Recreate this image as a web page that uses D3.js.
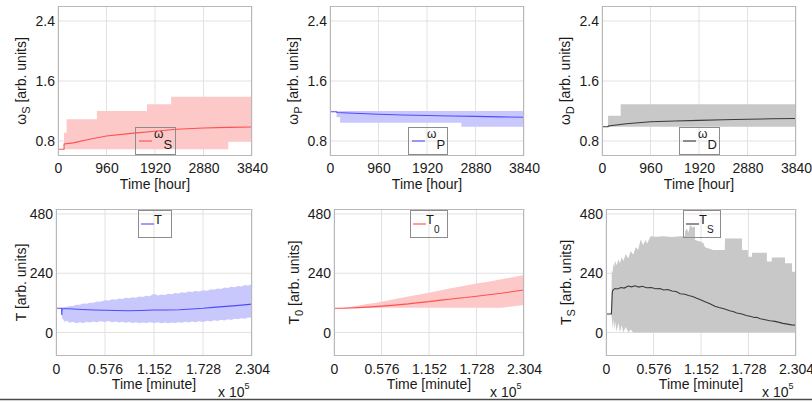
<!DOCTYPE html>
<html>
<head>
<meta charset="utf-8">
<script src="https://cdn.jsdelivr.net/npm/d3@7"></script>
<style>
  body { margin: 0; background: #fff; }
  text { font-family: "Liberation Sans", Arial, sans-serif; fill: #1a1a1a; }
</style>
</head>
<body>
<svg id="chart" width="812" height="402"></svg>
<script>
// ---- ticks ----
const hourTicks = [0, 960, 1920, 2880, 3840];
const omegaTicks = [0.8, 1.6, 2.4];
const minuteTicks = [0, 0.576, 1.152, 1.728, 2.304]; // x 10^5
const valueTicks = [0, 240, 480];

// ---- omega_S (hours) ----
const wsTime = [0, 119, 120, 300, 600, 960, 1500, 1920, 2340, 2880, 3360, 3840];
const wsMean = [0.69, 0.69, 0.76, 0.775, 0.82, 0.867, 0.905, 0.93, 0.956, 0.973, 0.982, 0.987];
const wsBandTime = [0, 119, 170, 770, 1760, 2240, 3370, 3840];
const wsLow  = [0.69, 0.69, 0.69, 0.69, 0.69, 0.69, 0.79, 0.79];
const wsHigh = [0.69, 0.91, 1.09, 1.20, 1.29, 1.39, 1.39, 1.39];

// ---- omega_P ----
const wpTime = [0, 130, 135, 480, 960, 1440, 1920, 2400, 2880, 3360, 3840];
const wpMean = [1.19, 1.19, 1.18, 1.17, 1.156, 1.147, 1.14, 1.134, 1.128, 1.122, 1.116];
const wpBandTime = [0, 130, 200, 2600, 3840];
const wpLow  = [1.19, 1.116, 1.044, 0.99, 0.99];
const wpHigh = [1.19, 1.20, 1.20, 1.20, 1.20];

// ---- omega_D ----
const wdTime = [0, 120, 125, 480, 960, 1440, 1920, 2400, 2880, 3360, 3840];
const wdMean = [0.99, 0.99, 1.0, 1.03, 1.057, 1.067, 1.075, 1.083, 1.09, 1.096, 1.10];
const wdBandTime = [0, 120, 370, 3840];
const wdLow  = [0.99, 0.99, 0.99, 0.99];
const wdHigh = [0.99, 1.137, 1.29, 1.29];

// ---- T (x 10^5 minutes) ----
const tTime = [0, 0.066, 0.068, 0.072, 0.15, 0.3, 0.45, 0.576, 0.7, 0.85, 1.0, 1.152, 1.3, 1.45, 1.6, 1.728, 1.85, 2.0, 2.15, 2.304];
const tMean = [98, 98, 71, 97, 96, 93, 91, 90, 89, 88, 89, 91, 91, 92, 95, 98, 102, 106, 110, 115];
const tBandTime = [0, 0.065, 0.07, 0.1, 0.13, 0.16, 0.2, 0.24, 0.28, 0.32, 0.36, 0.4, 0.44, 0.48, 0.52, 0.576,
  0.62, 0.66, 0.7, 0.74, 0.78, 0.82, 0.86, 0.9, 0.94, 0.98, 1.02, 1.06, 1.1, 1.152, 1.2, 1.24, 1.28, 1.32,
  1.36, 1.4, 1.44, 1.48, 1.52, 1.56, 1.6, 1.64, 1.68, 1.728, 1.78, 1.82, 1.86, 1.9, 1.94, 1.98, 2.02, 2.06,
  2.1, 2.14, 2.18, 2.22, 2.26, 2.304];
const tHigh = [98, 98, 100, 103, 104, 107, 107, 112, 112, 117, 116, 121, 121, 126, 125, 131,
  130, 135, 133, 138, 136, 141, 139, 143, 141, 146, 144, 149, 147, 157, 150, 154, 152, 157,
  155, 160, 158, 163, 161, 166, 164, 168, 166, 171, 169, 175, 173, 178, 176, 182, 180, 185,
  183, 188, 186, 192, 190, 196];
const tLow = [98, 98, 60, 44, 48, 40, 43, 38, 42, 39, 44, 41, 45, 42, 46, 43,
  47, 42, 45, 41, 44, 40, 43, 39, 42, 38, 41, 39, 42, 39, 42, 38, 41, 38,
  41, 39, 42, 40, 44, 41, 45, 42, 46, 43, 48, 45, 50, 47, 52, 49, 54, 51,
  56, 54, 58, 56, 61, 60];

// ---- T_0 ----
const t0Time = [0, 0.1, 0.2, 0.3, 0.4, 0.5, 0.576, 0.7, 0.8, 0.9, 1.0, 1.152, 1.3, 1.4, 1.5, 1.6, 1.728, 1.85, 2.0, 2.03, 2.15, 2.304];
const t0Mean = [98, 98.5, 99.5, 101, 103, 105, 107, 110, 113, 116, 120, 125, 131, 135, 139, 142, 147, 152, 158, 159, 165, 172];
const t0High = [98, 100, 104, 109, 115, 120, 125, 133, 140, 146, 152, 161, 171, 178, 184, 190, 198, 205, 214, 216, 223, 233];
const t0Low  = [98, 98, 98.5, 99, 99.5, 100, 100, 100, 100, 100, 100, 100, 100, 100, 100, 100, 100, 100, 100, 100, 105, 111];

// ---- T_S ----
const tsTime = [0, 0.065, 0.07, 0.075, 0.08, 0.09, 0.11, 0.14, 0.18, 0.22, 0.27, 0.31, 0.35, 0.4, 0.44, 0.49,
  0.55, 0.6, 0.655, 0.7, 0.75, 0.8, 0.85, 0.9, 0.958, 1.0, 1.05, 1.1, 1.14, 1.2, 1.26, 1.32, 1.37, 1.43,
  1.5, 1.55, 1.585, 1.65, 1.7, 1.746, 1.8, 1.827, 1.87, 1.93, 1.989, 2.05, 2.1, 2.147, 2.2, 2.25, 2.304];
const tsMean = [75, 75, 110, 155, 168, 174, 178, 176, 182, 180, 188, 185, 189, 184, 187, 181,
  182, 177, 178, 172, 174, 168, 166, 157, 155, 150, 146, 139, 134, 125, 116, 106, 101, 96,
  88, 84, 79, 75, 69, 66, 61, 62, 56, 52, 48, 45, 41, 37, 34, 31, 30];
const tsBandTime = [0, 0.065, 0.07, 0.08, 0.09, 0.1, 0.11, 0.13, 0.15, 0.17, 0.19, 0.21, 0.24, 0.27, 0.3, 0.33,
  0.36, 0.39, 0.42, 0.45, 0.48, 0.5, 0.54, 0.6, 0.7, 0.8, 0.9, 0.958, 0.96, 0.98, 1.0, 1.02, 1.05, 1.079,
  1.08, 1.14, 1.18, 1.2, 1.3, 1.44, 1.443, 1.649, 1.65, 1.72, 1.721, 1.77, 1.771, 1.95, 1.951, 2.01,
  2.011, 2.17, 2.171, 2.255, 2.256, 2.304];
const tsHigh = [75, 75, 255, 240, 282, 265, 290, 272, 296, 280, 305, 290, 318, 300, 330, 315,
  345, 335, 377, 354, 375, 360, 390, 388, 390, 387, 390, 390, 410, 420, 405, 435, 425, 430,
  375, 368, 362, 345, 334, 334, 381, 381, 334, 334, 307, 307, 323, 323, 287, 287,
  304, 304, 280, 280, 246, 246];
const tsLow = [75, 75, 60, 15, 55, 8, 45, 3, 40, 0, 30, 0, 22, 0, 12, 0,
  0, 0, 0, 0, 0, 0, 0, 0, 0, 0, 0, 0, 0, 0, 0, 0, 0, 0,
  0, 0, 0, 0, 0, 0, 0, 0, 0, 0, 0, 0, 0, 0, 0, 0,
  0, 0, 0, 0, 0, 0];

const red = { band: "#fdc8c8", line: "#ff4f4f" };
const blue = { band: "#c8c8fd", line: "#4d4dff" };
const gray = { band: "#c8c8c8", line: "#3a3a3a" };

const topRow = { top: 6, bottom: 156, yDomain: [0.6, 2.6], xDomain: [0, 3840], xTicks: hourTicks, yTicks: omegaTicks,
  xFmt: d3.format("d"), yFmt: d => d.toFixed(1), xLabel: "Time [hour]", step: true, bottomRow: false };
const botRow = { top: 209, bottom: 356, yDomain: [-95, 500], xDomain: [0, 2.304], xTicks: minuteTicks, yTicks: valueTicks,
  xFmt: d => d === 0 ? "0" : d.toFixed(3), yFmt: d3.format("d"), xLabel: "Time [minute]", step: false, bottomRow: true };

const panels = [
  { row: topRow, left: 58, right: 252, col: red, main: "ω", sub: "S", lx: 135, lw: 40, labOff: 32,
    time: wsTime, mean: wsMean, bandTime: wsBandTime, low: wsLow, high: wsHigh },
  { row: topRow, left: 330, right: 524, col: blue, main: "ω", sub: "P", lx: 408, lw: 39, labOff: 32,
    time: wpTime, mean: wpMean, bandTime: wpBandTime, low: wpLow, high: wpHigh },
  { row: topRow, left: 602, right: 796, col: gray, main: "ω", sub: "D", lx: 679, lw: 40, labOff: 32,
    time: wdTime, mean: wdMean, bandTime: wdBandTime, low: wdLow, high: wdHigh },
  { row: botRow, left: 56, right: 252, col: blue, main: "T", sub: "", lx: 138, lw: 33, labOff: 30,
    time: tTime, mean: tMean, bandTime: tBandTime, low: tLow, high: tHigh },
  { row: botRow, left: 334, right: 524, col: red, main: "T", sub: "0", lx: 410, lw: 37, labOff: 35,
    time: t0Time, mean: t0Mean, bandTime: t0Time, low: t0Low, high: t0High },
  { row: botRow, left: 606, right: 796, col: gray, main: "T", sub: "S", lx: 683, lw: 37, labOff: 35,
    time: tsTime, mean: tsMean, bandTime: tsBandTime, low: tsLow, high: tsHigh }
];

const svg = d3.select("#chart");
svg.append("rect").attr("width", 812).attr("height", 402).attr("fill", "#fff");

panels.forEach((p, i) => {
  const r = p.row;
  const x = d3.scaleLinear().domain(r.xDomain).range([p.left, p.right]);
  const y = d3.scaleLinear().domain(r.yDomain).range([r.bottom, r.top]);
  const g = svg.append("g");
  const clipId = "clip" + i;

  g.append("clipPath").attr("id", clipId).append("rect")
    .attr("x", p.left).attr("y", r.top)
    .attr("width", p.right - p.left).attr("height", r.bottom - r.top);

  // grid
  g.append("g").selectAll("line").data(r.xTicks).join("line")
    .attr("x1", d => x(d)).attr("x2", d => x(d))
    .attr("y1", r.top).attr("y2", r.bottom)
    .attr("stroke", "#e2e2e2");
  g.append("g").selectAll("line").data(r.yTicks).join("line")
    .attr("x1", p.left).attr("x2", p.right)
    .attr("y1", d => y(d)).attr("y2", d => y(d))
    .attr("stroke", "#e2e2e2");

  // band
  const band = p.bandTime.map((t, k) => ({ t: t, lo: p.low[k], hi: p.high[k] }));
  g.append("path").datum(band)
    .attr("clip-path", `url(#${clipId})`)
    .attr("fill", p.col.band)
    .attr("d", d3.area()
      .x(d => x(d.t)).y0(d => y(d.lo)).y1(d => y(d.hi))
      .curve(r.step ? d3.curveStepAfter : d3.curveLinear));

  // mean line
  const pts = p.time.map((t, k) => ({ t: t, v: p.mean[k] }));
  g.append("path").datum(pts)
    .attr("clip-path", `url(#${clipId})`)
    .attr("fill", "none")
    .attr("stroke", p.col.line)
    .attr("stroke-width", 1.1)
    .attr("d", d3.line().x(d => x(d.t)).y(d => y(d.v)));

  // box
  g.append("rect")
    .attr("x", p.left + 0.5).attr("y", r.top + 0.5)
    .attr("width", p.right - p.left - 1).attr("height", r.bottom - r.top - 1)
    .attr("fill", "none").attr("stroke", "#b8b8b8");

  // axes
  const xAxis = g.append("g")
    .attr("transform", `translate(0,${r.bottom})`)
    .call(d3.axisBottom(x).tickValues(r.xTicks).tickFormat(r.xFmt).tickSize(0).tickPadding(r.bottomRow ? 8 : 7));
  const yAxis = g.append("g")
    .attr("transform", `translate(${p.left},0)`)
    .call(d3.axisLeft(y).tickValues(r.yTicks).tickFormat(r.yFmt).tickSize(0).tickPadding(3));
  [xAxis, yAxis].forEach(a => {
    a.select(".domain").remove();
    a.selectAll("text").attr("font-size", 14).attr("fill", "#1a1a1a")
      .style("font-family", '"Liberation Sans", Arial, sans-serif');
  });

  // x label
  g.append("text")
    .attr("x", (p.left + p.right) / 2)
    .attr("y", r.bottomRow ? 389 : 189)
    .attr("text-anchor", "middle")
    .attr("font-size", 14)
    .text(r.xLabel);

  if (r.bottomRow) {
    const m = g.append("text")
      .attr("x", p.right - 34).attr("y", 397)
      .attr("font-size", 14);
    m.append("tspan").text("x 10");
    m.append("tspan").attr("font-size", 9).attr("dy", -8).text("5");
  }

  // y label
  const yl = g.append("text")
    .attr("transform", `translate(${p.left - p.labOff},${(r.top + r.bottom) / 2}) rotate(-90)`)
    .attr("text-anchor", "middle")
    .attr("font-size", 14);
  yl.append("tspan").text(p.main);
  if (p.sub) {
    yl.append("tspan").attr("font-size", 11).attr("dy", 4).text(p.sub);
    yl.append("tspan").attr("dy", -4).text(" [arb. units]");
  } else {
    yl.append("tspan").text(" [arb. units]");
  }

  // legend
  const ly = r.bottomRow ? 210 : 127;
  g.append("rect")
    .attr("x", p.lx + 0.5).attr("y", ly + 0.5)
    .attr("width", p.lw).attr("height", 27)
    .attr("fill", "none").attr("stroke", "#8c8c8c");
  const lineX0 = p.lx + (r.bottomRow ? 3 : 4);
  g.append("line")
    .attr("x1", lineX0).attr("x2", lineX0 + 13)
    .attr("y1", ly + 14).attr("y2", ly + 14)
    .attr("stroke", p.col.line).attr("stroke-width", 1.1);
  const lt = g.append("text")
    .attr("x", lineX0 + (r.bottomRow ? 13 : 15))
    .attr("y", ly + (r.bottomRow ? 14 : 11));
  lt.append("tspan").attr("font-size", r.bottomRow ? 13 : 12).text(p.main);
  if (p.sub) {
    lt.append("tspan").attr("font-size", r.bottomRow ? 10 : 13)
      .attr("dy", r.bottomRow ? 9 : 11).text(p.sub);
  }
});

// rule along the bottom edge of the figure
svg.append("line")
  .attr("x1", 0).attr("x2", 812).attr("y1", 399.5).attr("y2", 399.5)
  .attr("stroke", "#4a4a4a").attr("stroke-width", 1.5);
</script>
</body>
</html>
